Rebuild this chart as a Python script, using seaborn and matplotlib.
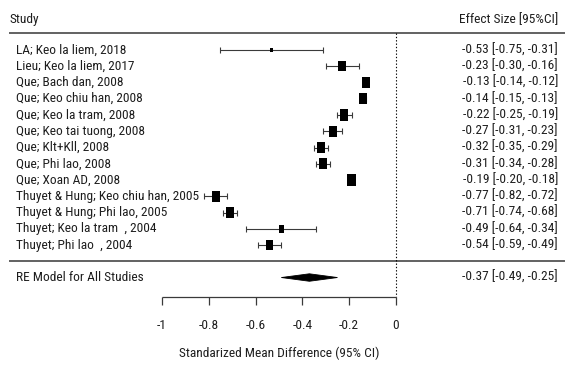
import numpy as np
import pandas as pd
import matplotlib
matplotlib.use("Agg")
import matplotlib.pyplot as plt
import seaborn as sns

studies = [
    "LA; Keo la liem, 2018",
    "Lieu; Keo la liem, 2017",
    "Que; Bach dan, 2008",
    "Que; Keo chiu han, 2008",
    "Que; Keo la tram, 2008",
    "Que; Keo tai tuong, 2008",
    "Que; Klt+Kll, 2008",
    "Que; Phi lao, 2008",
    "Que; Xoan AD, 2008",
    "Thuyet & Hung; Keo chiu han, 2005",
    "Thuyet & Hung; Phi lao, 2005",
    "Thuyet; Keo la tram  , 2004",
    "Thuyet; Phi lao  , 2004",
]
effect = [-0.53, -0.23, -0.13, -0.14, -0.22, -0.27, -0.32, -0.31, -0.19, -0.77, -0.71, -0.49, -0.54]
ci_low = [-0.75, -0.30, -0.14, -0.15, -0.25, -0.31, -0.35, -0.34, -0.20, -0.82, -0.74, -0.64, -0.59]
ci_high = [-0.31, -0.16, -0.12, -0.13, -0.19, -0.23, -0.29, -0.28, -0.18, -0.72, -0.68, -0.34, -0.49]
weights = [6.28, 7.73, 7.93, 7.93, 7.90, 7.87, 7.90, 7.90, 7.93, 7.83, 7.90, 7.08, 7.83]

re_label = "RE Model for All Studies"
re_est, re_low, re_high = -0.37, -0.49, -0.25

xticks = [-1, -0.8, -0.6, -0.4, -0.2, 0]
xtick_labels = ["-1", "-0.8", "-0.6", "-0.4", "-0.2", "0"]
xlabel = "Standarized Mean Difference (95% CI)"
header_left = "Study"
header_right = "Effect Size [95%CI]"

sns.set_theme(style="white")
FONT = ["Roboto Condensed", "Liberation Sans", "DejaVu Sans"]
plt.rcParams["font.family"] = FONT
TXT = "#1e1e1e"
LINE = "#3a3a3a"
FS = 9.6

df = pd.DataFrame({"study": studies, "es": effect, "lo": ci_low, "hi": ci_high, "w": weights})
df["row"] = np.arange(len(df))
w = np.array(weights)
mult = 0.55 + 0.95 * (w - w.min()) / (w.max() - w.min())
df["s"] = (5.4 * mult) ** 2

fig = plt.figure(figsize=(5.77, 3.70), dpi=100)
ax = fig.add_axes([0, 0, 1, 1])

n = len(df)
y_top = -1.05
y_sep = n
y_re = n + 1
y_axis = n + 2.2

# CI whiskers
ax.errorbar(df["es"], df["row"], xerr=[df["es"] - df["lo"], df["hi"] - df["es"]],
            fmt="none", ecolor=LINE, elinewidth=0.8, capsize=2.2, capthick=0.8)

rect = [(-0.72, -1), (0.72, -1), (0.72, 1), (-0.72, 1)]
sns.scatterplot(data=df, x="es", y="row", s=df["s"], marker=rect, color="black",
                edgecolor="none", linewidth=0, legend=False, ax=ax, zorder=3)
ax.set_xlim(-1.692, 0.7735)
ax.set_ylim(19.69, -3.077)
ax.axis("off")

# diamond
h = 0.23
ax.fill([re_low, re_est, re_high, re_est], [y_re, y_re - h, y_re, y_re + h],
        color="black", lw=0.6)

# lines
ax.hlines([y_top, y_sep], -1.654, 0.722, color="#555555", lw=1.3)
ax.vlines(0, y_top, y_axis, color="black", lw=0.8, linestyles=(0, (1.2, 1.8)))

# x axis
ax.hlines(y_axis, xticks[0], xticks[-1], color=LINE, lw=0.9)
ax.vlines(xticks, y_axis, y_axis + 0.5, color=LINE, lw=0.9)
for t, lab in zip(xticks, xtick_labels):
    ax.text(t, y_axis + 1.75, lab, ha="center", va="center", fontsize=FS, color=TXT)
ax.text(-0.5, y_axis + 3.45, xlabel, ha="center", va="center", fontsize=FS, color=TXT)

# texts
x_left = -1.654
x_lab = -1.625
x_right = 0.692
ax.text(x_left + 0.002, -1.85, header_left, ha="left", va="center", fontsize=FS, color=TXT)
ax.text(x_right, -1.85, header_right, ha="right", va="center", fontsize=FS, color=TXT)
for _, r in df.iterrows():
    ax.text(x_lab, r["row"], r["study"], ha="left", va="center", fontsize=FS, color=TXT)
    ax.text(x_right, r["row"], f"{r['es']:.2f} [{r['lo']:.2f}, {r['hi']:.2f}]",
            ha="right", va="center", fontsize=FS, color=TXT)
ax.text(x_lab, y_re, re_label, ha="left", va="center", fontsize=FS, color=TXT)
ax.text(x_right, y_re, f"{re_est:.2f} [{re_low:.2f}, {re_high:.2f}]",
        ha="right", va="center", fontsize=FS, color=TXT)

fig.savefig("out.png", dpi=100, facecolor="white")
